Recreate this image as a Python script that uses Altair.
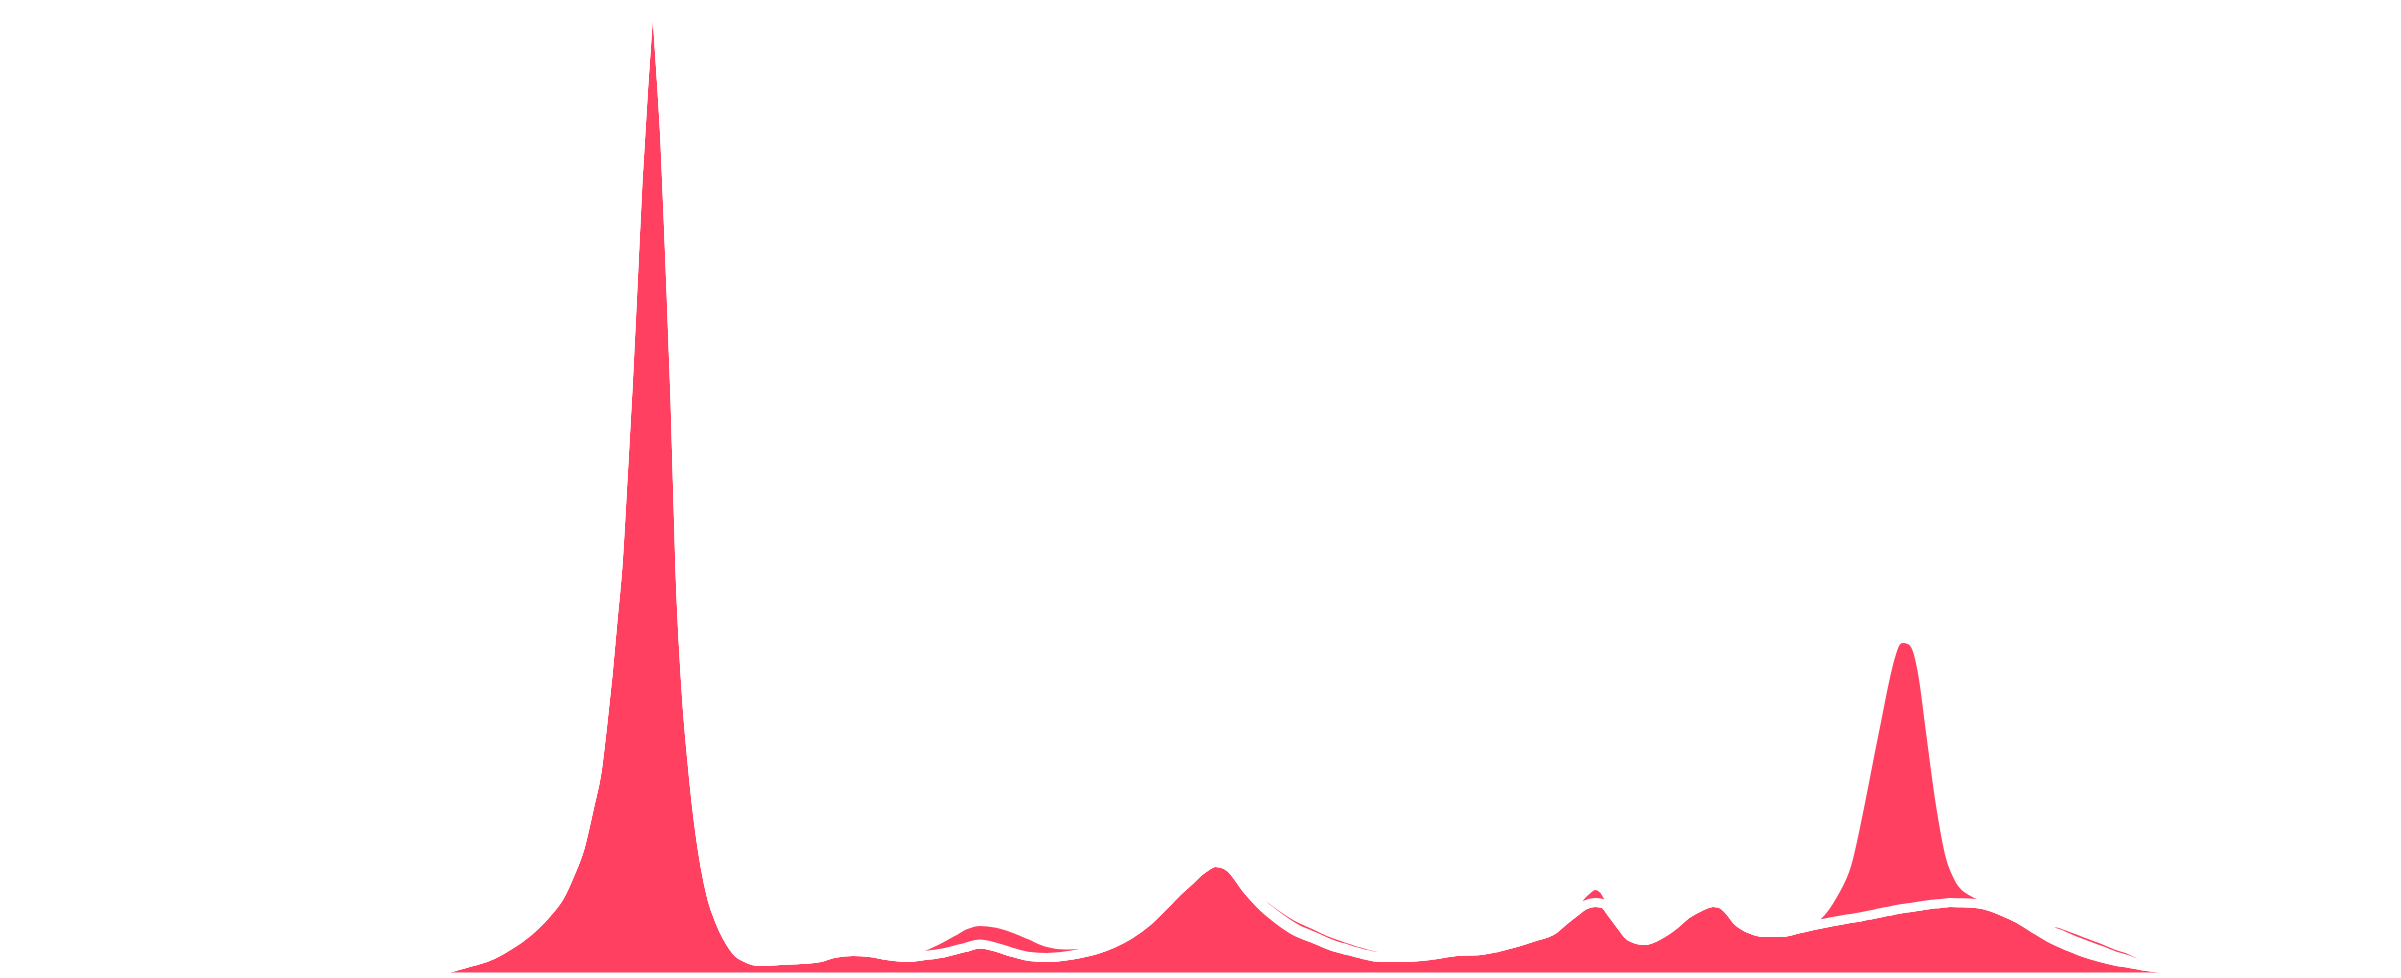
import altair as alt
import pandas as pd

# positions along the horizontal axis (arbitrary units)
x_vals = [
    24.2, 29.2, 34.2, 39.2, 42.2, 44.4, 46.2, 48.2, 49.7, 51.2,
    52.7, 53.9, 55.2, 56.2, 57.2, 58.2, 58.9, 59.5, 60.0, 60.5,
    61.0, 61.5, 62.0, 62.5, 63.0, 63.6, 64.1, 64.5, 64.9, 65.3,
    65.7, 66.2, 66.7, 67.2, 67.9, 68.4, 68.9, 69.7, 70.4, 71.2,
    71.9, 73.0, 73.9, 75.2, 77.2, 79.2, 81.2, 82.5, 84.5, 86.2,
    87.9, 89.9, 91.7, 93.2, 94.5, 95.7, 97.2, 98.9, 100.5, 102.2,
    103.9, 105.7, 107.2, 108.9, 110.5, 112.2, 113.9, 115.5, 117.2, 118.2,
    119.2, 119.9, 120.7, 121.4, 122.2, 123.9, 125.5, 127.2, 128.9, 130.5,
    132.2, 133.9, 135.5, 137.2, 139.7, 142.2, 144.9, 147.2, 148.9, 150.5,
    152.5, 154.5, 155.7, 156.7, 157.7, 158.7, 159.5, 160.5, 161.4, 162.2,
    163.7, 165.5, 166.7, 167.9, 169.2, 170.5, 171.2, 172.2, 172.9, 174.2,
    175.7, 177.2, 179.2, 181.0, 182.5, 183.9, 185.2, 186.2, 186.9, 187.6,
    188.2, 188.9, 189.5, 190.2, 190.9, 191.5, 192.2, 193.2, 194.2, 195.2,
    196.5, 197.5, 199.2, 200.9, 202.5, 204.2, 204.9, 206.2, 207.5, 209.2,
    210.9, 212.2, 213.5, 215.2, 217.2, 219.2, 224.2, 229.2, 234.2,
]

# bottom series
series_base = [
    0, 0.08, 0.18, 0.32, 0.52, 0.97, 1.47, 2.1, 2.9, 3.86,
    5.1, 6.37, 8.1, 10.25, 12.9, 17.2, 20.5, 25.5, 30.2, 35.7,
    41.2, 49.8, 58.8, 69.1, 79.6, 89.5, 96.8, 103.0, 96.3, 90.2,
    83.5, 71.2, 57.9, 40.6, 27.3, 21.5, 16.7, 11.1, 7.8, 5.5,
    4.0, 2.4, 1.87, 1.55, 1.65, 1.75, 1.95, 2.35, 2.55, 2.45,
    2.15, 1.95, 2.15, 2.35, 2.65, 2.95, 3.3, 2.95, 2.45, 2.05,
    1.95, 2.1, 2.35, 2.75, 3.35, 4.25, 5.48, 7.04, 8.74, 9.65,
    10.6, 11.1, 11.45, 11.35, 10.94, 8.74, 7.0, 5.6, 4.5, 3.87,
    3.16, 2.66, 2.25, 1.95, 1.95, 2.15, 2.55, 2.65, 2.95, 3.35,
    3.98, 4.7, 5.7, 6.48, 7.2, 7.45, 7.35, 6.2, 5.0, 4.05,
    3.65, 4.4, 5.25, 6.28, 7.02, 7.45, 7.35, 6.54, 5.63, 4.8,
    4.45, 4.45, 4.85, 5.25, 5.55, 5.8, 6.0, 6.2, 6.35, 6.5,
    6.6, 6.75, 6.85, 6.95, 7.05, 7.15, 7.25, 7.35, 7.45, 7.43,
    7.38, 7.25, 6.68, 5.9, 4.92, 3.9, 3.55, 2.98, 2.47, 1.95,
    1.55, 1.35, 1.1, 0.9, 0.6, 0.4, 0.2, 0.08, 0,
]

# thin middle series
series_middle = [
    0, 0, 0, 0, 0, 0, 0, 0, 0, 0,
    0, 0, 0, 0, 0, 0, 0, 0, 0, 0,
    0, 0, 0, 0, 0, 0, 0, 0, 0, 0,
    0, 0, 0, 0, 0, 0, 0, 0, 0, 0,
    0, 0, 0, 0, 0, 0, 0, 0, 0, 0,
    0, 0, 0, 0, 0, 0, 0, 0, 0, 0,
    0, 0, 0, 0, 0, 0, 0, 0, 0, 0,
    0, 0, 0, 0, 0, 0.1, 0.25, 0.3, 0.3, 0.25,
    0.2, 0.15, 0.1, 0.05, 0, 0, 0, 0, 0, 0,
    0, 0, 0, 0, 0, 0, 0, 0, 0, 0,
    0, 0, 0, 0, 0, 0, 0, 0, 0, 0,
    0, 0, 0, 0, 0, 0, 0, 0, 0, 0,
    0, 0, 0, 0, 0, 0, 0, 0, 0, 0,
    0, 0, 0, 0, 0.3, 0.7, 0.85, 0.85, 0.85, 0.75,
    0.5, 0.3, 0.05, 0, 0, 0, 0, 0, 0,
]

# top series
series_top = [
    0, 0, 0, 0, 0, 0, 0, 0, 0, 0,
    0, 0, 0, 0, 0, 0, 0, 0, 0, 0,
    0, 0, 0, 0, 0, 0, 0, 0, 0, 0,
    0, 0, 0, 0, 0, 0, 0, 0, 0, 0,
    0, 0, 0, 0, 0, 0, 0, 0, 0.05, 0.15,
    0.3, 0.65, 0.95, 1.45, 1.87, 2.23, 2.25, 2.41, 2.43, 2.13,
    1.51, 1.1, 0.9, 0.6, 0.45, 0.4, 0.45, 0.55, 0.7, 0.9,
    1.05, 0.95, 0.85, 0.8, 0.85, 1.0, 1.15, 1.2, 1.2, 1.15,
    1.1, 1.05, 1.0, 0.9, 0.7, 0.5, 0.4, 0.35, 0.35, 0.35,
    0.35, 0.4, 0.55, 0.9, 1.3, 1.7, 1.45, 0.8, 0.5, 0.4,
    0.3, 0.25, 0.2, 0.2, 0.15, 0.15, 0.15, 0.15, 0.15, 0.15,
    0.2, 0.3, 0.55, 0.9, 2.66, 5.5, 11.2, 16.1, 19.45, 22.8,
    25.25, 26.85, 27.0, 26.75, 25.72, 22.95, 17.6, 10.15, 4.65, 2.2,
    1.1, 0.8, 0.65, 0.6, 0.7, 0.85, 1.0, 1.15, 1.15, 1.15,
    1.1, 1.05, 0.95, 0.6, 0.3, 0.15, 0.05, 0, 0,
]

layer_names = ["a_base", "b_middle", "c_top"]

# build stacked table (cumulative bounds)
rows = []
for i, xv in enumerate(x_vals):
    b = series_base[i]
    m = b + series_middle[i]
    t = m + series_top[i]
    rows.append({"x": xv, "layer": layer_names[0], "lo": 0.0, "hi": b})
    rows.append({"x": xv, "layer": layer_names[1], "lo": b, "hi": m})
    rows.append({"x": xv, "layer": layer_names[2], "lo": m, "hi": t})
df = pd.DataFrame(rows)

chart = (
    alt.Chart(df)
    .mark_area(
        fill="#FF4060",
        stroke="white",
        strokeWidth=9,
        strokeJoin="round",
        interpolate="monotone",
    )
    .encode(
        x=alt.X("x:Q", axis=None,
                scale=alt.Scale(domain=[0, 238.5], nice=False, zero=False)),
        y=alt.Y("hi:Q", axis=None,
                scale=alt.Scale(domain=[0, 96.9], nice=False)),
        y2="lo:Q",
        detail="layer:N",
    )
    .properties(
        width=2385,
        height=969,
        padding=0,
        background="white",
        autosize=alt.AutoSizeParams(type="none"),
    )
    .configure_view(strokeWidth=0)
)

chart.save("out.html", embed_options={"renderer": "svg", "actions": False})
